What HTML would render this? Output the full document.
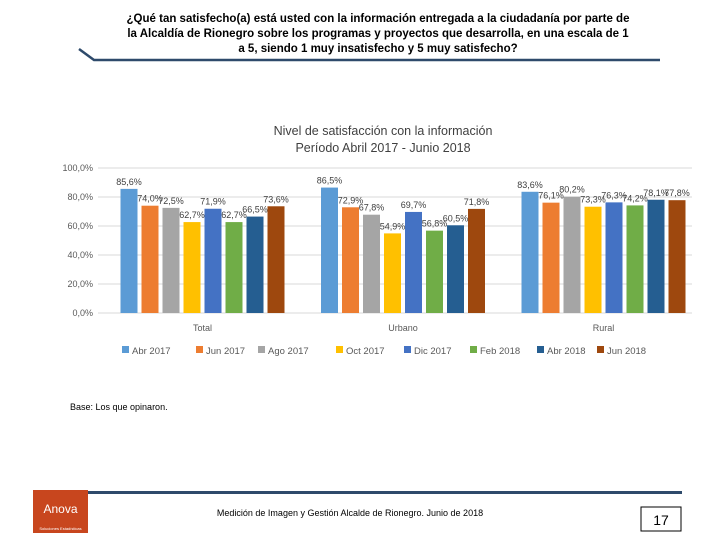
<!DOCTYPE html>
<html><head><meta charset="utf-8">
<style>
body{margin:0;background:#fff;}
svg{display:block;font-family:"Liberation Sans",sans-serif;}
</style></head>
<body>
<svg id="s" width="720" height="540" viewBox="0 0 720 540">
<g font-weight="bold" font-size="11.5" text-anchor="middle" fill="#000">
<text x="378" y="22">¿Qué tan satisfecho(a) está usted con la información entregada a la ciudadanía por parte de</text>
<text x="378" y="37">la Alcaldía de Rionegro sobre los programas y proyectos que desarrolla, en una escala de 1</text>
<text x="378" y="52">a 5, siendo 1 muy insatisfecho y 5 muy satisfecho?</text>
</g>
<polyline points="79,49 94,60 660,60" fill="none" stroke="#2e4a6b" stroke-width="2.5"/>
<g font-size="12.5" text-anchor="middle" fill="#404040">
<text x="383" y="135">Nivel de satisfacción con la información</text>
<text x="383" y="152">Período Abril 2017 - Junio 2018</text>
</g>
<g id="grid"></g>
<g id="yax"></g>
<g id="bars"></g>
<g id="cats"></g>
<g id="legend"></g>
<text x="70" y="410" font-size="9" fill="#000">Base: Los que opinaron.</text>
<rect x="68" y="491" width="614" height="3" fill="#2e4a6b"/>
<g>
<rect x="33" y="490" width="55" height="43" fill="#c8461e"/>
<text x="60.5" y="513" font-size="12" fill="#fff" text-anchor="middle">Anova</text>
<text x="60.5" y="530" font-size="4" fill="#fff" text-anchor="middle">Soluciones Estadísticas</text>
</g>
<text x="350" y="516" font-size="9" text-anchor="middle" fill="#000">Medición de Imagen y Gestión Alcalde de Rionegro. Junio de 2018</text>
<rect x="641" y="507" width="40" height="24" fill="#fff" stroke="#000" stroke-width="1"/>
<text x="661" y="525" font-size="14" text-anchor="middle">17</text>
</svg>
<script>
const categories = ["Total","Urbano","Rural"];
const series = ["Abr 2017","Jun 2017","Ago 2017","Oct 2017","Dic 2017","Feb 2018","Abr 2018","Jun 2018"];
const colors = ["#5b9bd5","#ed7d31","#a5a5a5","#ffc000","#4472c4","#70ad47","#255e91","#9e480e"];
const valTotal = [85.6,74.0,72.5,62.7,71.9,62.7,66.5,73.6];
const valUrbano = [86.5,72.9,67.8,54.9,69.7,56.8,60.5,71.8];
const valRural = [83.6,76.1,80.2,73.3,76.3,74.2,78.1,77.8];
const yTicks = [0,20,40,60,80,100];
const values = [valTotal,valUrbano,valRural];

const NS="http://www.w3.org/2000/svg";
const plotL=98, plotR=692, y0=313, y100=168;
function y(v){return y0-(v/100)*(y0-y100);}
const groupStep=200.5;
function gx(i){return 202.5+groupStep*i;}
const pitch=21, bw=17;
function bx(g,s){return gx(g)-((series.length-1)*pitch+bw)/2+s*pitch;}
function mk(tag,attrs,parent){const e=document.createElementNS(NS,tag);for(const k in attrs)e.setAttribute(k,attrs[k]);parent.appendChild(e);return e;}

const grid=document.getElementById('grid'), yax=document.getElementById('yax');
yTicks.forEach(t=>{
  const l=mk('line',{x1:plotL,x2:plotR,y1:y(t),y2:y(t),stroke:'#d9d9d9','stroke-width':1},grid);
  
  
  const tx=mk('text',{x:93,y:y(t)+3,'font-size':9,'text-anchor':'end',fill:'#595959'},yax);
  tx.textContent=t.toFixed(1).replace('.',',')+'%';
  
  
});
const bars=document.getElementById('bars'), cats=document.getElementById('cats');
categories.forEach((c,g)=>{
  series.forEach((s,i)=>{
    const v=values[g][i];
    const r=mk('rect',{x:bx(g,i),y:y(v),width:bw,height:y0-y(v),fill:colors[i]},bars);
    
    
    const t=mk('text',{x:bx(g,i)+bw/2,y:y(v)-4,'font-size':9,'text-anchor':'middle',fill:'#404040'},bars);
    t.textContent=v.toFixed(1).replace('.',',')+'%';
    
    
  });
  const ct=mk('text',{x:gx(g),y:331,'font-size':9,'text-anchor':'middle',fill:'#595959'},cats);
  ct.textContent=c;
  
  
});
const lg=document.getElementById('legend');
const lx=[122,196,258,336,404,470,537,597];
series.forEach((s,i)=>{
  const g=mk('g',{},lg);
  
  
  mk('rect',{x:lx[i],y:346,width:7,height:7,fill:colors[i]},g);
  const t=mk('text',{x:lx[i]+10,y:354,'font-size':9.5,fill:'#595959'},g);
  t.textContent=s;
});
</script>
</body></html>
